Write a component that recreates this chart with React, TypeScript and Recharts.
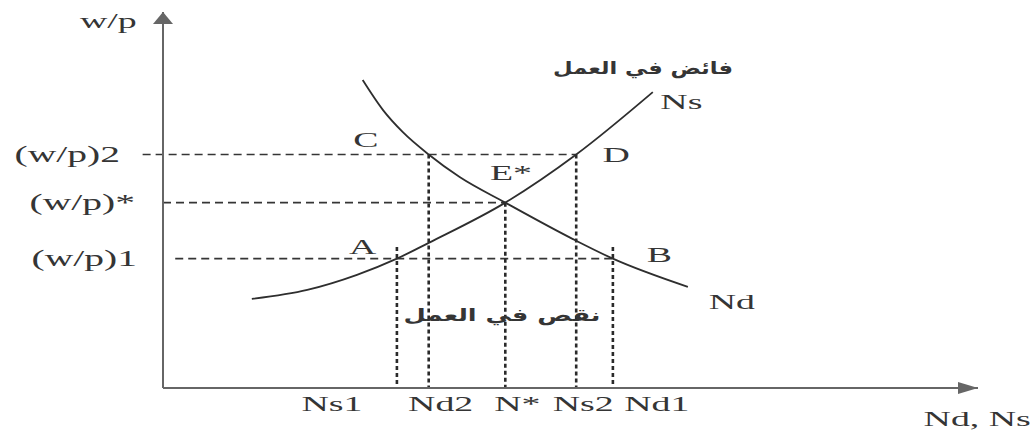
import { ComposedChart, Line, XAxis, YAxis, ReferenceLine, ReferenceDot } from 'recharts'

// labour supply Ns (employment, real wage)
const supplyN = [10.9, 17.7, 23.8, 28.7, 32.6, 42.0, 50.7, 60.1]
const supplyW = [23.7, 26.1, 30.1, 34.4, 38.6, 49.3, 62.1, 78.7]

// labour demand Nd
const demandN = [24.5, 27.0, 29.4, 32.6, 36.4, 42.0, 50.3, 55.2, 64.4]
const demandW = [81.9, 73.9, 68.1, 62.1, 56.1, 49.3, 39.6, 34.4, 26.9]

// real wage levels and where each guide meets a curve
const wageLevels = [62.1, 49.3, 34.4]
const wageLabels = ['(w/p)2', '(w/p)*', '(w/p)1']
const wageGuideEnds = [50.7, 42.0, 55.2]

// employment levels on the horizontal axis
const employment = [28.7, 32.6, 42.0, 50.7, 55.2]
const employmentLabels = ['Ns1', 'Nd2', 'N*', 'Ns2', 'Nd1']
const employmentGuideTops = [37.5, 62.1, 49.3, 62.1, 37.5]

// point letters and curve names
const notes = [
  { text: 'C', n: 24.9, w: 66.0 },
  { text: 'E*', n: 42.7, w: 57.4 },
  { text: 'D', n: 55.6, w: 62.0 },
  { text: 'A', n: 24.5, w: 37.5 },
  { text: 'B', n: 60.9, w: 35.6 },
  { text: 'Ns', n: 63.6, w: 76.1 },
  { text: 'Nd', n: 69.8, w: 22.9 },
  { text: 'w/p', n: -6.7, w: 97.6 },
  { text: 'Nd, Ns', n: 99.9, w: -8.0 },
]
const arabicNotes = [
  { text: 'فائض في العمل', n: 58.9, w: 85.1 },
  { text: 'نقص في العمل', n: 41.6, w: 19.4 },
]

const supply = supplyN.map((x, i) => ({ x, y: supplyW[i] }))
const demand = demandN.map((x, i) => ({ x, y: demandW[i] }))

const INK = '#353535'
const SERIF = "'Liberation Serif', 'Times New Roman', serif"
const STRETCH = 1.72

function Stretch({ x, y, text, size = 22, anchor = 'middle' }: any) {
  return (
    <text
      transform={`translate(${x},${y}) scale(${STRETCH},1)`}
      textAnchor={anchor}
      dominantBaseline="central"
      fontFamily={SERIF}
      fontSize={size}
      fill={INK}
    >
      {text}
    </text>
  )
}

const arabicWidths = [180, 197]

// little nudges so labels sit like in the printed figure
const xTickShift = [-65, 12, 12, 7, 44]
const yTickShift = [-43, -28, -26]

function XTick({ x, y, payload }: any) {
  const i = employment.indexOf(payload.value)
  return <Stretch x={x + xTickShift[i]} y={y + 16} text={employmentLabels[i]} />
}

function YTick({ x, y, payload }: any) {
  const i = wageLevels.indexOf(payload.value)
  return <Stretch x={x + yTickShift[i]} y={y} text={wageLabels[i]} size={23} anchor="end" />
}

export default function App() {
  return (
    <div style={{ position: 'absolute', left: 0, top: 0, background: '#fff' }}>
      <ComposedChart width={1036} height={439} margin={{ top: 12, right: 58, bottom: 21, left: 103 }}>
        <XAxis
          type="number"
          dataKey="x"
          domain={[0, 100]}
          ticks={employment}
          interval={0}
          tick={<XTick />}
          tickLine={false}
          tickSize={0}
          tickMargin={0}
          height={30}
          axisLine={{ stroke: '#666', strokeWidth: 2 }}
          allowDataOverflow
        />
        <YAxis
          type="number"
          domain={[0, 100]}
          ticks={wageLevels}
          interval={0}
          tick={<YTick />}
          tickLine={false}
          tickSize={0}
          tickMargin={0}
          width={60}
          axisLine={{ stroke: '#666', strokeWidth: 2 }}
          allowDataOverflow
        />

        {/* axis arrow heads */}
        <ReferenceDot
          x={0}
          y={100}
          r={0}
          ifOverflow="visible"
          shape={(p: any) => (
            <polygon points={`${p.cx},${p.cy} ${p.cx - 10},${p.cy + 12} ${p.cx + 10},${p.cy + 12}`} fill="#666" />
          )}
        />
        <ReferenceDot
          x={100}
          y={0}
          r={0}
          ifOverflow="visible"
          shape={(p: any) => (
            <polygon points={`${p.cx},${p.cy} ${p.cx - 20},${p.cy - 6} ${p.cx - 20},${p.cy + 6}`} fill="#666" />
          )}
        />

        {/* horizontal wage guides */}
        {wageLevels.map((w, i) => (
          <ReferenceLine
            key={`w-${i}`}
            segment={[
              { x: i === 0 ? -2.5 : i === 2 ? 1.5 : 0, y: w },
              { x: wageGuideEnds[i], y: w },
            ]}
            stroke={INK}
            strokeWidth={1.6}
            strokeDasharray="8 5"
            ifOverflow="visible"
          />
        ))}

        {/* vertical employment guides */}
        {employment.map((n, i) => (
          <ReferenceLine
            key={`n-${i}`}
            segment={[
              { x: n, y: employmentGuideTops[i] },
              { x: n, y: 0 },
            ]}
            stroke="#2a2a2a"
            strokeWidth={2.6}
            strokeDasharray="4 3"
            ifOverflow="visible"
          />
        ))}

        <Line
          data={supply}
          dataKey="y"
          type="monotone"
          stroke="#2e2e2e"
          strokeWidth={1.8}
          dot={false}
          activeDot={false}
          isAnimationActive={false}
        />
        <Line
          data={demand}
          dataKey="y"
          type="monotone"
          stroke="#2e2e2e"
          strokeWidth={1.8}
          dot={false}
          activeDot={false}
          isAnimationActive={false}
        />

        {notes.map((t) => (
          <ReferenceDot
            key={t.text}
            x={t.n}
            y={t.w}
            r={0}
            ifOverflow="visible"
            shape={(p: any) => <Stretch x={p.cx} y={p.cy} text={t.text} />}
          />
        ))}
        {arabicNotes.map((t, i) => (
          <ReferenceDot
            key={t.text}
            x={t.n}
            y={t.w}
            r={0}
            ifOverflow="visible"
            shape={(p: any) => (
              <text
                x={p.cx}
                y={p.cy}
                textAnchor="middle"
                dominantBaseline="central"
                direction="rtl"
                fontFamily="'DejaVu Sans', sans-serif"
                fontWeight="bold"
                fontSize={17}
                fill={INK}
                textLength={arabicWidths[i]}
                lengthAdjust="spacingAndGlyphs"
              >
                {t.text}
              </text>
            )}
          />
        ))}
      </ComposedChart>
    </div>
  )
}
